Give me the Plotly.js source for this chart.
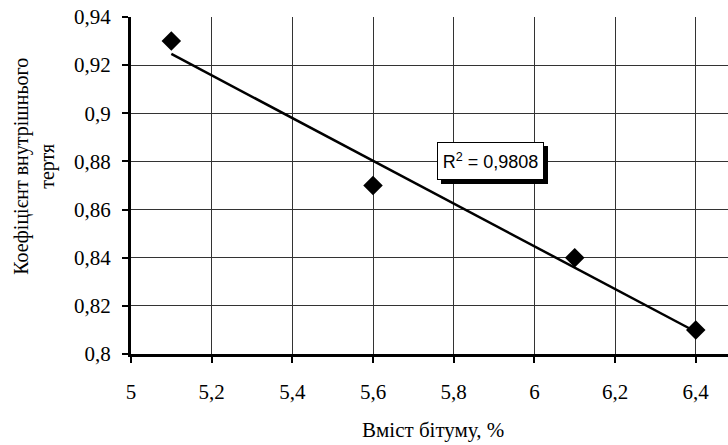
<!DOCTYPE html>
<html><head><meta charset="utf-8">
<script src="https://cdn.plot.ly/plotly-3.0.1.min.js"></script>
<style>html,body{margin:0;padding:0;background:#fff;overflow:hidden}</style>
</head><body>
<div id="chart" style="width:728px;height:445px"></div>
<script>
const bitumen = [5.1, 5.6, 6.1, 6.4];
const friction = [0.93, 0.87, 0.84, 0.81];
const xTitle = 'Вміст бітуму, %';
const yTitle = 'Коефіцієнт внутрішнього<br>тертя';

// linear trend (least squares) from the data
const n = bitumen.length;
const mx = bitumen.reduce((a,b)=>a+b,0)/n;
const my = friction.reduce((a,b)=>a+b,0)/n;
let sxy=0, sxx=0, syy=0;
for (let i=0;i<n;i++){const dx=bitumen[i]-mx, dy=friction[i]-my; sxy+=dx*dy; sxx+=dx*dx; syy+=dy*dy;}
const slope = sxy/sxx, icpt = my - slope*mx;
const r2 = (sxy*sxy)/(sxx*syy);
const trendX = [Math.min(...bitumen), Math.max(...bitumen)];
const trendY = trendX.map(x=>icpt+slope*x);
const r2Text = 'R<sup>2</sup> = ' + r2.toFixed(4).replace('.', ',');

const traces = [
  {x: trendX, y: trendY, mode:'lines', line:{color:'#000', width:2.5}, hoverinfo:'skip'},
  {x: bitumen, y: friction, mode:'markers', marker:{symbol:'diamond', size:15, color:'#000'}}
];
const serif = 'Liberation Serif';
const sans = 'Liberation Sans';
const layout = {
  width:728, height:445,
  margin:{l:131, r:0, t:17, b:91},
  paper_bgcolor:'#fff', plot_bgcolor:'#fff',
  showlegend:false,
  separators:', ',
  xaxis:{range:[5,6.48], dtick:0.2, tick0:5, showgrid:true, gridcolor:'#333', gridwidth:1,
    zeroline:false, showline:true, linecolor:'#000', linewidth:3,
    ticks:'outside', ticklen:6, tickwidth:2, tickcolor:'#000',
    tickfont:{family:serif, size:21, color:'#000'}, ticklabelstandoff:11},
  yaxis:{range:[0.8,0.94], dtick:0.02, tick0:0.8, showgrid:true, gridcolor:'#333', gridwidth:1,
    zeroline:false, showline:true, linecolor:'#000', linewidth:3,
    ticks:'outside', ticklen:6, tickwidth:2, tickcolor:'#000',
    tickfont:{family:serif, size:21, color:'#000'}, ticklabelstandoff:7},
  annotations:[
    {x:-0.161, y:0.558, xref:'paper', yref:'paper', text:yTitle, textangle:-90, showarrow:false,
     xanchor:'center', yanchor:'middle', font:{family:serif, size:20, color:'#000'}},
    {x:0.506, y:-0.2255, xref:'paper', yref:'paper', text:xTitle, showarrow:false,
     xanchor:'center', yanchor:'middle', font:{family:serif, size:21, color:'#000'}},
    {x:5.89, y:0.88, xref:'x', yref:'y', text:' ', showarrow:false, width:105, height:36,
     bgcolor:'#000', bordercolor:'#000', borderwidth:1, borderpad:0, xshift:4, yshift:-4},
    {x:5.89, y:0.88, xref:'x', yref:'y', text:r2Text, showarrow:false, width:105, height:36,
     font:{family:sans, size:18, color:'#000'},
     bgcolor:'#fff', bordercolor:'#000', borderwidth:1, borderpad:0}
  ]
};
Plotly.newPlot('chart', traces, layout, {displayModeBar:false, staticPlot:true});
</script>
</body></html>
